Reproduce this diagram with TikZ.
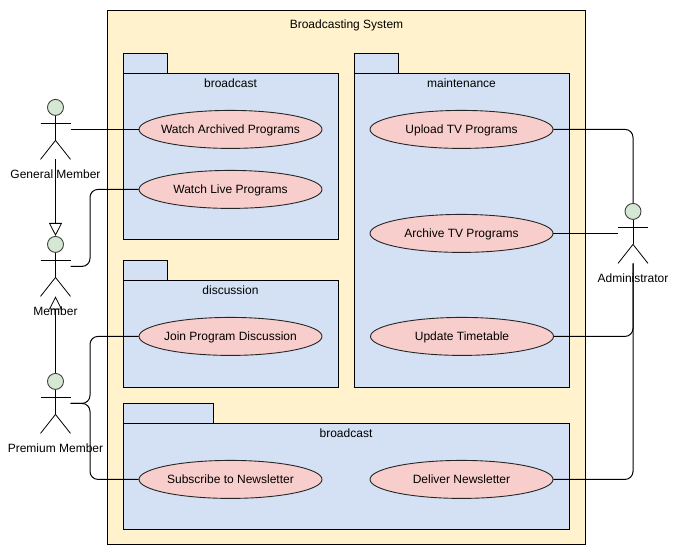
\documentclass[tikz,border=0pt]{standalone}
\usepackage{fontspec}
\setmainfont{Liberation Sans}
\usetikzlibrary{shapes.geometric, arrows.meta}

\definecolor{sysfill}{HTML}{FFF2CC}
\definecolor{pkgfill}{HTML}{D4E1F5}
\definecolor{casefill}{HTML}{F8CECC}
\definecolor{headfill}{HTML}{D5E8D4}

\tikzset{
	every node/.style={font=\fontsize{12}{14}\selectfont},
	box/.style={draw=black, fill=pkgfill, line width=1pt},
	usecase/.style={draw=black!85, fill=casefill, ellipse, minimum width=183pt, minimum height=38pt, inner xsep=-12pt, inner ysep=0pt, text height=9.5pt, text depth=1.5pt, line width=0.9pt},
	head/.style={draw=black!75, fill=headfill, circle, minimum size=16pt, inner sep=0pt, line width=0.9pt},
	link/.style={line width=1pt, rounded corners=8pt},
	inherit/.style={line width=1pt, -{Triangle[open, length=13pt, width=13pt, line width=0.8pt]}}
}

% Dibuja un actor: nombre, x, y de la cabeza
\newcommand{\actorfig}[3]{
	\node[head] (#1) at (#2, #3) {};
	\coordinate (#1foot) at (#2, #3+52);
	\coordinate (#1hand) at (#2+15, #3+22);
	\coordinate (#1lefthand) at (#2-15, #3+22);
	\draw[line width=0.8pt] (#1.south) -- (#2, #3+33);
	\draw[line width=0.8pt] (#2-15, #3+16) -- (#2+15, #3+16);
	\draw[line width=0.8pt] (#2-15, #3+52) -- (#2, #3+33) -- (#2+15, #3+52);
}

% Dibuja un paquete: x, y de la pestana, ancho de pestana, ancho, alto
\newcommand{\packagefig}[5]{
	\draw[box] (#1, #2) rectangle (#1+#3, #2+20);
	\draw[box] (#1, #2+20) rectangle (#1+#4, #2+20+#5);
}

\begin{document}
\begin{tikzpicture}[x=1pt, y=-1pt]
	\useasboundingbox (0, 0) rectangle (676, 555);

	% Sistema
	\draw[fill=sysfill, line width=1pt] (107.5, 10.5) rectangle (585, 544);

	% Paquetes
	\packagefig{123}{53}{44}{215}{166}
	\packagefig{354}{53}{44}{215}{314}
	\packagefig{123}{260}{44}{215}{107}
	\packagefig{123}{403}{90}{446}{106}

	% Casos de uso
	\node[usecase] (watcharch) at (230.5, 129.4) {Watch Archived Programs};
	\node[usecase] (watchlive) at (230.5, 189.4) {Watch Live Programs};
	\node[usecase] (joindisc) at (230.5, 336.4) {Join Program Discussion};
	\node[usecase] (subscribe) at (230.5, 479.4) {Subscribe to Newsletter};
	\node[usecase] (upload) at (461.5, 129.4) {Upload TV Programs};
	\node[usecase] (archive) at (461.5, 233.4) {Archive TV Programs};
	\node[usecase] (update) at (462, 336.4) {Update Timetable};
	\node[usecase] (deliver) at (461.5, 479.4) {Deliver Newsletter};

	% Actores
	\actorfig{general}{55.5}{107.4}
	\actorfig{member}{55.5}{244.4}
	\actorfig{premium}{55.5}{381.4}
	\actorfig{admin}{633}{211.4}

	% Carriles de las lineas
	\coordinate (laneleft) at (90, 0);
	\coordinate (laneright) at (633, 0);

	% Conexiones
	\draw[link] (generalhand) -- (watcharch.west);
	\draw[link] (memberhand) -- (laneleft |- memberhand) -- (laneleft |- watchlive.west) -- (watchlive.west);
	\draw[link] (premiumhand) -- (laneleft |- premiumhand) -- (laneleft |- joindisc.west) -- (joindisc.west);
	\draw[link] (premiumhand) -- (laneleft |- premiumhand) -- (laneleft |- subscribe.west) -- (subscribe.west);
	\draw[link] (upload.east) -- (laneright |- upload.east) -- (admin.north);
	\draw[link] (archive.east) -- (adminlefthand);
	\draw[link] (update.east) -- (laneright |- update.east) -- (adminfoot);
	\draw[link] (deliver.east) -- (laneright |- deliver.east) -- (adminfoot);
	\draw[inherit] (generalfoot) -- (member.north);
	\draw[inherit] (premium.north) -- (memberfoot);

	% Textos
	\node (systitle) at (346.5, 25) {Broadcasting System};
	\node (titlebroad) at (230.5, 83) {broadcast};
	\node (titlemaint) at (461.5, 83) {maintenance};
	\node (titledisc) at (230.5, 290) {discussion};
	\node (titlenews) at (346, 433) {broadcast};
	\node (labelgeneral) at (55.5, 174) {General Member};
	\node (labelmember) at (55.5, 311) {Member};
	\node (labelpremium) at (55.5, 448) {Premium Member};
	\node (labeladmin) at (633, 278) {Administrator};
\end{tikzpicture}
\end{document}
